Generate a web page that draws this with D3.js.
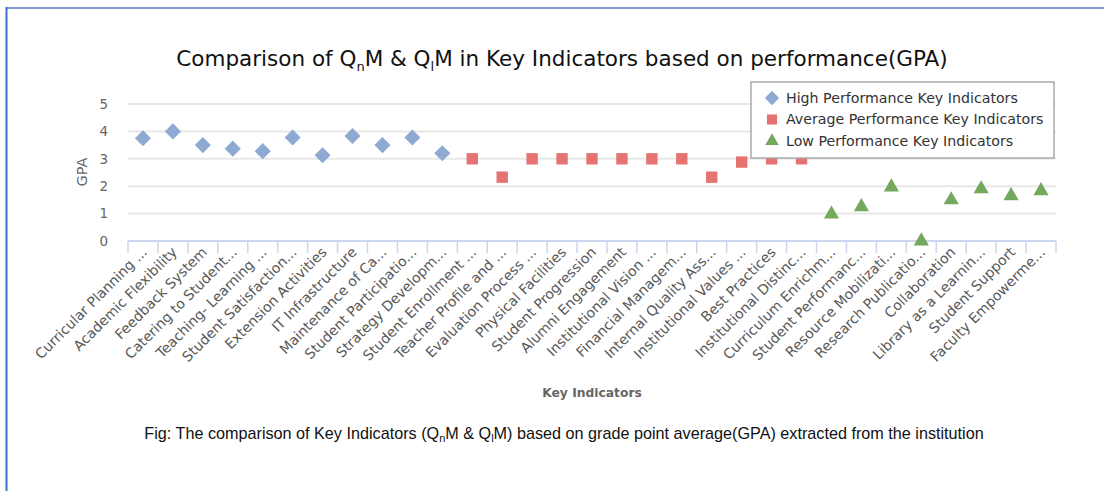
<!DOCTYPE html>
<html>
<head>
<meta charset="utf-8">
<script src="https://cdn.jsdelivr.net/npm/d3@7"></script>
<style>
  body { margin: 0; background: #fff; }
  svg { display: block; }
</style>
</head>
<body>
<script>
// ---- data ----
const highNames = ["Curricular Planning ...", "Academic Flexibility", "Feedback System", "Catering to Student...",
  "Teaching- Learning ...", "Student Satisfaction...", "Extension Activities", "IT Infrastructure",
  "Maintenance of Ca...", "Student Participatio...", "Strategy Developm..."];
const highGPA = [3.75, 4.0, 3.5, 3.37, 3.28, 3.78, 3.13, 3.83, 3.5, 3.78, 3.2];

const avgNames = ["Student Enrollment ...", "Teacher Profile and ...", "Evaluation Process ...", "Physical Facilities",
  "Student Progression", "Alumni Engagement", "Institutional Vision ...", "Financial Managem...",
  "Internal Quality Ass...", "Institutional Values ...", "Best Practices", "Institutional Distinc..."];
const avgGPA = [3.0, 2.33, 3.0, 3.0, 3.0, 3.0, 3.0, 3.0, 2.33, 2.88, 3.0, 3.0];

const lowNames = ["Curriculum Enrichm...", "Student Performanc...", "Resource Mobilizati...", "Research Publicatio...",
  "Collaboration", "Library as a Learnin...", "Student Support", "Faculty Empowerme..."];
const lowGPA = [0.98, 1.25, 1.97, 0.0, 1.5, 1.9, 1.65, 1.83];

const yTicks = [0, 1, 2, 3, 4, 5];
const legendLabels = ["High Performance Key Indicators", "Average Performance Key Indicators", "Low Performance Key Indicators"];

const W = 1104, H = 491;
const svg = d3.select("body").append("svg").attr("width", W).attr("height", H);

// frame lines
svg.append("line").attr("x1", 6).attr("x2", W).attr("y1", 8).attr("y2", 8)
  .attr("stroke", "#7f9bcc").attr("stroke-width", 2);
svg.append("line").attr("x1", 6.5).attr("x2", 6.5).attr("y1", 7).attr("y2", H)
  .attr("stroke", "#3b6fd6").attr("stroke-width", 2);

const categories = highNames.concat(avgNames, lowNames);
const series = [
  { names: highNames, vals: highGPA, color: "#8eaad2", shape: d3.symbolDiamond2 },
  { names: avgNames, vals: avgGPA, color: "#e57372", shape: d3.symbolSquare2 },
  { names: lowNames, vals: lowGPA, color: "#72a95c", shape: d3.symbolTriangle2 }
];

const x = d3.scaleBand().domain(categories).range([128, 1056]);
const y = d3.scaleLinear().domain([0, 5]).range([241, 104]);

// grid lines
svg.append("g").selectAll("line").data(yTicks.filter(d => d > 0)).join("line")
  .attr("x1", 128).attr("x2", 1056)
  .attr("y1", d => y(d)).attr("y2", d => y(d))
  .attr("stroke", "#e8e8e8").attr("stroke-width", 2);

// y axis labels
svg.append("g").selectAll("text").data(yTicks).join("text")
  .attr("x", 108).attr("y", d => y(d)).attr("dy", "0.35em")
  .attr("text-anchor", "end")
  .attr("font-family", "DejaVu Sans").attr("font-size", 13.5).attr("fill", "#666")
  .text(d => d);

svg.append("text")
  .attr("transform", "translate(87,172) rotate(-90)")
  .attr("text-anchor", "middle")
  .attr("font-family", "DejaVu Sans").attr("font-size", 14.5).attr("fill", "#666")
  .text("GPA");

// x axis
const xAxis = svg.append("g").attr("transform", "translate(0,241)");
xAxis.append("line").attr("x1", 128).attr("x2", 1056)
  .attr("stroke", "#ccd6ee").attr("stroke-width", 2);
const bounds = categories.map(c => x(c)).concat([x.range()[1]]);
xAxis.selectAll("line.tk").data(bounds).join("line").attr("class", "tk")
  .attr("x1", d => d).attr("x2", d => d).attr("y1", 0).attr("y2", 12)
  .attr("stroke", "#ccd6ee").attr("stroke-width", 1.5);

svg.append("g").selectAll("text").data(categories).join("text")
  .attr("transform", d => `translate(${x(d) + x.bandwidth() / 2 + 5},${253}) rotate(-45)`)
  .attr("text-anchor", "end")
  .attr("font-family", "DejaVu Sans").attr("font-size", 14).attr("fill", "#595959")
  .text(d => d);

svg.append("text")
  .attr("x", 592).attr("y", 397)
  .attr("text-anchor", "middle")
  .attr("font-family", "DejaVu Sans").attr("font-weight", "bold")
  .attr("font-size", 12.3).attr("fill", "#666")
  .text("Key Indicators");

// points
series.forEach(s => {
  svg.append("g").selectAll("path").data(s.names.map((n, i) => [n, s.vals[i]])).join("path")
    .attr("transform", d => `translate(${x(d[0]) + x.bandwidth() / 2},${y(d[1])})`)
    .attr("d", d3.symbol().type(s.shape).size(165))
    .attr("fill", s.color);
});

// legend
const lg = svg.append("g");
lg.append("rect").attr("x", 751).attr("y", 82).attr("width", 303).attr("height", 76)
  .attr("fill", "#fff").attr("stroke", "#aaa").attr("stroke-width", 1.5);
series.forEach((s, i) => {
  const cy = 98 + i * 21.5;
  lg.append("path").attr("transform", `translate(772,${cy})`)
    .attr("d", d3.symbol().type(s.shape).size(130)).attr("fill", s.color);
  lg.append("text").attr("x", 786).attr("y", cy).attr("dy", "0.35em")
    .attr("font-family", "DejaVu Sans").attr("font-size", 14.2).attr("fill", "#333")
    .text(legendLabels[i]);
});

// title
const title = svg.append("text").attr("x", 562).attr("y", 66)
  .attr("text-anchor", "middle")
  .attr("font-family", "DejaVu Sans").attr("font-size", 21.5).attr("fill", "#111");
title.append("tspan").text("Comparison of Q");
title.append("tspan").attr("font-size", 13).attr("dy", 5).text("n");
title.append("tspan").attr("dy", -5).text("M & Q");
title.append("tspan").attr("font-size", 13).attr("dy", 5).text("l");
title.append("tspan").attr("dy", -5).text("M in Key Indicators based on performance(GPA)");

// caption
const cap = svg.append("text").attr("x", 564).attr("y", 439)
  .attr("text-anchor", "middle")
  .attr("font-family", "Liberation Sans").attr("font-size", 16.2).attr("fill", "#111");
cap.append("tspan").text("Fig: The comparison of Key Indicators (Q");
cap.append("tspan").attr("font-size", 11).attr("dy", 3).text("n");
cap.append("tspan").attr("dy", -3).text("M & Q");
cap.append("tspan").attr("font-size", 11).attr("dy", 3).text("l");
cap.append("tspan").attr("dy", -3).text("M) based on grade point average(GPA) extracted from the institution");
</script>
</body>
</html>
